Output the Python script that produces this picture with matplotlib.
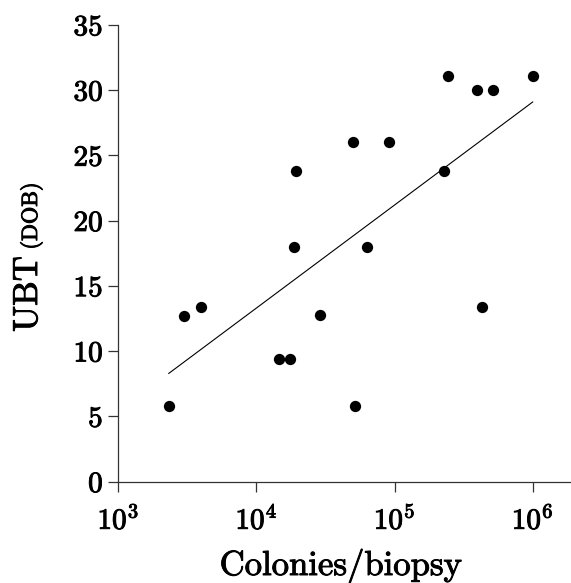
import numpy as np
import matplotlib
matplotlib.use("Agg")
from matplotlib import pyplot as plt
from matplotlib import patheffects

# values
colonies = [2.32e3, 2.98e3, 3.95e3, 1.45e4, 1.76e4, 1.86e4, 1.94e4, 2.9e4, 5.0e4,
            5.2e4, 6.36e4, 9.1e4, 2.27e5, 2.44e5, 3.98e5, 4.3e5, 5.19e5, 1.0e6]
ubt = [5.8, 12.7, 13.4, 9.4, 9.4, 18.0, 23.8, 12.8, 26.0,
       5.8, 18.0, 26.0, 23.8, 31.1, 30.0, 13.4, 30.0, 31.1]
fit_x = [2.32e3, 1.0e6]
fit_y = [8.3, 29.1]

x_ticks = [1e3, 1e4, 1e5, 1e6]
x_ticklabels = [r'$10^{3}$', r'$10^{4}$', r'$10^{5}$', r'$10^{6}$']
y_ticks = [0, 5, 10, 15, 20, 25, 30, 35]

matplotlib.rcParams['font.family'] = ['cmr10']
matplotlib.rcParams['mathtext.fontset'] = 'cm'
matplotlib.rcParams['axes.unicode_minus'] = False
matplotlib.rcParams['axes.formatter.use_mathtext'] = True

W, H = 571, 583
fig = plt.figure(figsize=(W / 100, H / 100), dpi=100)
ax = fig.add_axes([118.3 / W, 1 - 481.7 / H, (570 - 118.3) / W, (481.7 - 25) / H])

ax.scatter(colonies, ubt, s=66, color='black', zorder=3, linewidths=0)
ax.plot(fit_x, fit_y, color='black', lw=0.8)

ax.set_xscale('log')
ax.set_xlim(1e3, 10 ** 6.27)
ax.set_ylim(0, 35)
ax.set_xticks(x_ticks)
ax.set_xticklabels(x_ticklabels)
ax.xaxis.set_minor_locator(matplotlib.ticker.NullLocator())
ax.set_yticks(y_ticks)
ax.set_yticklabels([str(v) for v in y_ticks])

for s in ['top', 'right']:
    ax.spines[s].set_visible(False)
for s in ['left', 'bottom']:
    ax.spines[s].set_linewidth(0.9)
    ax.spines[s].set_color('#333333')
ax.tick_params(direction='out', length=7.2, width=0.9, color='#333333', labelsize=21)
ax.tick_params(axis='y', pad=4)
ax.tick_params(axis='x', pad=10)

texts = []
texts.append(fig.text(37 / W, 1 - 294 / H, 'UBT', rotation=90, rotation_mode='anchor',
                      ha='center', va='baseline', fontsize=25))
texts.append(fig.text(37 / W, 1 - 216 / H, '(DOB)', rotation=90, rotation_mode='anchor',
                      ha='center', va='baseline', fontsize=16))
texts.append(fig.text(341 / W, 1 - 575 / H, 'Colonies/biopsy', ha='center', va='baseline',
                      fontsize=25))

# scanned print looks heavier than cmr10
thick = [patheffects.withStroke(linewidth=0.7, foreground='black')]
for t in texts + ax.get_xticklabels() + ax.get_yticklabels():
    t.set_path_effects(thick)

fig.savefig('out.png', dpi=100)
